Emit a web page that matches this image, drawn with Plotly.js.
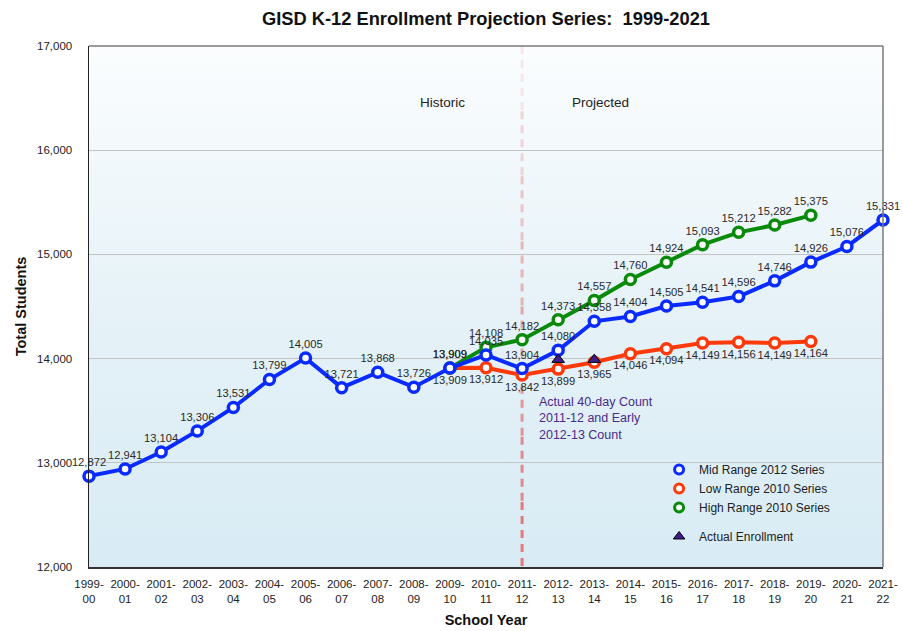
<!DOCTYPE html>
<html>
<head>
<meta charset="utf-8">
<script src="https://cdn.plot.ly/plotly-3.0.1.min.js"></script>
<style>
html,body{margin:0;padding:0;background:#fff;}
#chart{width:903px;height:631px;}
</style>
</head>
<body>
<div id="chart"></div>
<script>
// ---- data ----
const years = ["1999-00","2000-01","2001-02","2002-03","2003-04","2004-05","2005-06","2006-07","2007-08","2008-09","2009-10","2010-11","2011-12","2012-13","2013-14","2014-15","2015-16","2016-17","2017-18","2018-19","2019-20","2020-21","2021-22"];
const yearTicks = ["1999-<br>00","2000-<br>01","2001-<br>02","2002-<br>03","2003-<br>04","2004-<br>05","2005-<br>06","2006-<br>07","2007-<br>08","2008-<br>09","2009-<br>10","2010-<br>11","2011-<br>12","2012-<br>13","2013-<br>14","2014-<br>15","2015-<br>16","2016-<br>17","2017-<br>18","2018-<br>19","2019-<br>20","2020-<br>21","2021-<br>22"];
const midValues = [12872,12941,13104,13306,13531,13799,14005,13721,13868,13726,13909,14035,13904,14080,14358,14404,14505,14541,14596,14746,14926,15076,15331];
const projYears = ["2009-10","2010-11","2011-12","2012-13","2013-14","2014-15","2015-16","2016-17","2017-18","2018-19","2019-20"];
const lowValues = [13909,13912,13842,13899,13965,14046,14094,14149,14156,14149,14164];
const highValues = [13909,14108,14182,14373,14557,14760,14924,15093,15212,15282,15375];
const actualYears = ["2012-13","2013-14"];
const actualValues = [13990,13990];
const yTicks = [12000,13000,14000,15000,16000,17000];

const BLUE = "#0a2bff", RED = "#ff3a0a", GREEN = "#0a8a0a", PURPLE = "#3a1f8a";
const SANS = "'Liberation Sans',Arial,sans-serif";

function series(name, x, y, color, pos) {
  return {
    type: "scatter", mode: "lines+markers+text", name: name, x: x, y: y,
    line: {color: color, width: 4},
    marker: {symbol: "circle", size: 10, color: "#ffffff", line: {color: color, width: 3.5}},
    texttemplate: "%{y:,}", textposition: pos,
    textfont: {family: SANS, size: 11.2, color: "#2a2a2a"},
    cliponaxis: false, showlegend: false, hoverinfo: "x+y"
  };
}
function legendItem(name, color, group) {
  return {type: "scatter", mode: "markers", name: name, x: [null], y: [null],
    marker: {symbol: "circle", size: 9, color: "#fff", line: {color: color, width: 3}},
    legendgroup: group, showlegend: true};
}

const traces = [
  series("Low Range 2010 Series", projYears, lowValues, RED, "bottom center"),
  series("High Range 2010 Series", projYears, highValues, GREEN, "top center"),
  series("Mid Range 2012 Series", years, midValues, BLUE, "top center"),
  {type: "scatter", mode: "markers", name: "Actual Enrollment", x: actualYears, y: actualValues,
   marker: {symbol: "triangle-up", size: 11, color: PURPLE, line: {color: "#000", width: 1}},
   showlegend: false, cliponaxis: false},
  legendItem("Mid Range 2012 Series", BLUE, "a"),
  legendItem("Low Range 2010 Series", RED, "a"),
  legendItem("High Range 2010 Series", GREEN, "a"),
  {type: "scatter", mode: "markers", name: "Actual Enrollment", x: [null], y: [null],
   marker: {symbol: "triangle-up", size: 10, color: PURPLE, line: {color: "#000", width: 1}},
   legendgroup: "b", showlegend: true}
];

// dashed divider (gradient by segments)
const shapes = [];
const nSeg = 8;
for (let i = 0; i < nSeg; i++) {
  const t = i / (nSeg - 1);
  const a = 0.15 + 0.75 * t;
  shapes.push({type: "line", xref: "x", yref: "paper", x0: "2011-12", x1: "2011-12",
    y0: 1 - i / nSeg, y1: 1 - (i + 1) / nSeg,
    line: {color: `rgba(225,110,110,${a.toFixed(2)})`, width: 3, dash: "8px,6px"}, layer: "below"});
}
// top and right borders in gray
shapes.push({type: "line", xref: "paper", yref: "paper", x0: 0, x1: 1, y0: 1, y1: 1, line: {color: "#7a7a7a", width: 1.5}});
shapes.push({type: "line", xref: "paper", yref: "paper", x0: 1, x1: 1, y0: 0, y1: 1, line: {color: "#7a7a7a", width: 1.5}});

const svg = "<svg xmlns='http://www.w3.org/2000/svg' width='100' height='100' preserveAspectRatio='none'><defs><linearGradient id='g' x1='0' y1='0' x2='0' y2='1'><stop offset='0' stop-color='#fbfdfe'/><stop offset='0.5' stop-color='#e6f2f8'/><stop offset='1' stop-color='#d8ebf4'/></linearGradient></defs><rect width='100' height='100' fill='url(#g)'/></svg>";

const layout = {
  width: 903, height: 631,
  margin: {l: 89, r: 20, t: 46, b: 64},
  paper_bgcolor: "#ffffff", plot_bgcolor: "rgba(0,0,0,0)",
  font: {family: SANS, color: "#222"},
  title: {text: "<b>GISD K-12 Enrollment Projection Series:\u00a0 1999-2021</b>", x: 0.5, xref: "paper", y: 0.971, yref: "container", yanchor: "middle", font: {family: SANS, size: 18.3, color: "#111"}},
  xaxis: {type: "category", categoryorder: "array", categoryarray: years, range: [0, 22],
    tickvals: years, ticktext: yearTicks, tickfont: {family: SANS, size: 11.5, color: "#222"},
    ticks: "outside", ticklen: 6, tickcolor: "rgba(0,0,0,0)",
    showgrid: false, showline: true, linecolor: "#333", linewidth: 1.5, zeroline: false,
    title: {text: "<b>School Year</b>", font: {family: SANS, size: 14.5, color: "#111"}, standoff: 10}},
  yaxis: {range: [12000, 17000], tickvals: yTicks, tickformat: ",", tickfont: {family: SANS, size: 11.5, color: "#222"},
    ticks: "outside", ticklen: 13, tickcolor: "rgba(0,0,0,0)",
    showgrid: true, gridcolor: "#c4c4c4", gridwidth: 1.2, showline: true, linecolor: "#222", linewidth: 1.5, zeroline: false,
    title: {text: "<b>Total Students</b>", font: {family: SANS, size: 14.5, color: "#111"}, standoff: 7}},
  legend: {x: 0.718, y: 0.215, xanchor: "left", yanchor: "top", bgcolor: "rgba(0,0,0,0)",
    font: {family: SANS, size: 12, color: "#222"}, traceorder: "grouped", tracegroupgap: 10, itemclick: false},
  images: [{source: "data:image/svg+xml;charset=utf-8," + encodeURIComponent(svg), xref: "paper", yref: "paper",
    x: 0, y: 1, sizex: 1, sizey: 1, sizing: "stretch", xanchor: "left", yanchor: "top", layer: "below"}],
  shapes: shapes,
  annotations: [
    {text: "Historic", xref: "x", yref: "paper", x: 9.8, y: 1 - (93 - 46) / 521, showarrow: false, font: {family: SANS, size: 13.5, color: "#222"}},
    {text: "Projected", xref: "x", yref: "paper", x: 14.17, y: 1 - (93 - 46) / 521, showarrow: false, font: {family: SANS, size: 13.5, color: "#222"}},
    {text: "Actual 40-day Count<br>2011-12 and Early<br>2012-13 Count", xref: "x", yref: "paper", x: 12.4, y: 1 - (393 - 46) / 521,
     xanchor: "left", yanchor: "top", align: "left", showarrow: false, font: {family: SANS, size: 12.5, color: "#4a2a8c"}}
  ],
  hovermode: false
};

Plotly.newPlot("chart", traces, layout, {displayModeBar: false, staticPlot: true});
</script>
</body>
</html>
